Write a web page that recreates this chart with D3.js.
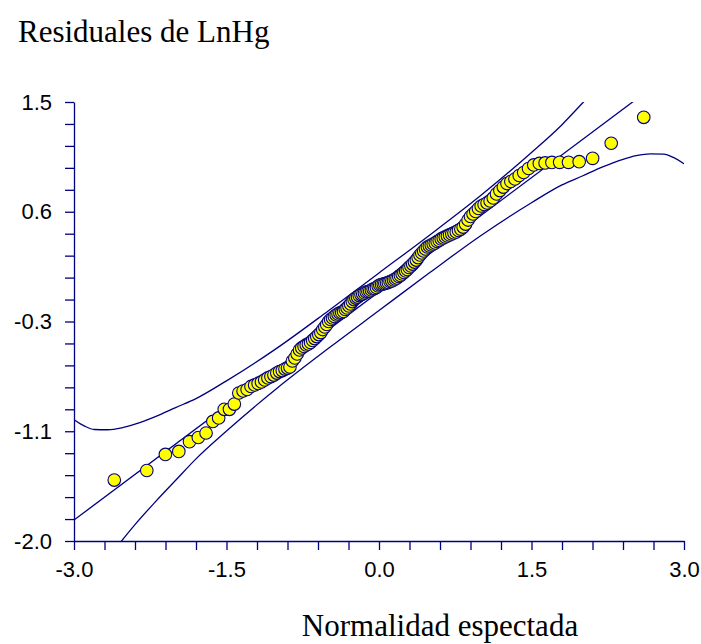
<!DOCTYPE html>
<html>
<head>
<meta charset="utf-8">
<script src="https://cdn.jsdelivr.net/npm/d3@7"></script>
<style>
  html, body { margin: 0; padding: 0; background: #ffffff; }
  svg { display: block; }
</style>
</head>
<body>
<svg id="chart" width="701" height="644"></svg>
<script>
// Normal probability plot of the LnHg residuals (n = 150)

// Expected normal scores (horizontal position of each ordered residual)
const normalScores = [
  -2.604,-2.284,-2.101,-1.969,-1.864,-1.777,-1.701,-1.634,-1.577,-1.522,
  -1.471,-1.423,-1.379,-1.337,-1.297,-1.259,-1.223,-1.189,-1.156,-1.124,
  -1.093,-1.063,-1.034,-1.005,-0.978,-0.951,-0.925,-0.900,-0.876,-0.852,
  -0.828,-0.805,-0.782,-0.760,-0.737,-0.716,-0.694,-0.673,-0.652,-0.632,
  -0.612,-0.592,-0.572,-0.553,-0.533,-0.514,-0.495,-0.476,-0.457,-0.439,
  -0.421,-0.403,-0.385,-0.367,-0.349,-0.331,-0.314,-0.296,-0.279,-0.262,
  -0.245,-0.228,-0.211,-0.194,-0.177,-0.160,-0.143,-0.126,-0.109,-0.092,
  -0.075,-0.058,-0.042,-0.025,-0.008,
  0.008,0.025,0.042,0.058,0.075,0.092,0.109,0.126,0.143,0.160,
  0.177,0.194,0.211,0.228,0.245,0.262,0.279,0.296,0.314,0.331,
  0.349,0.367,0.385,0.403,0.421,0.439,0.457,0.476,0.495,0.514,
  0.533,0.553,0.572,0.592,0.612,0.632,0.652,0.673,0.694,0.716,
  0.737,0.760,0.782,0.805,0.828,0.852,0.876,0.900,0.925,0.951,
  0.978,1.005,1.034,1.063,1.093,1.124,1.156,1.189,1.223,1.259,
  1.297,1.337,1.379,1.423,1.471,1.522,1.577,1.634,1.701,1.777,
  1.864,1.969,2.101,2.284,2.604
];

// Ordered residuals of LnHg
const residuals = [
  -1.514,-1.438,-1.310,-1.286,-1.208,-1.175,-1.139,-1.047,-1.019,-0.950,
  -0.950,-0.908,-0.820,-0.804,-0.792,-0.768,-0.756,-0.744,-0.732,-0.716,
  -0.700,-0.689,-0.677,-0.661,-0.649,-0.641,-0.629,-0.621,-0.613,-0.565,
  -0.541,-0.509,-0.477,-0.461,-0.449,-0.437,-0.429,-0.417,-0.401,-0.386,
  -0.370,-0.354,-0.338,-0.314,-0.294,-0.274,-0.250,-0.234,-0.222,-0.210,
  -0.198,-0.190,-0.182,-0.178,-0.170,-0.154,-0.142,-0.126,-0.110,-0.091,
  -0.075,-0.063,-0.055,-0.043,-0.035,-0.031,-0.023,-0.015,-0.011,-0.007,
  0.001,0.009,0.013,0.021,0.033,0.041,0.045,0.049,0.053,0.057,
  0.061,0.069,0.073,0.081,0.089,0.097,0.109,0.117,0.129,0.141,
  0.153,0.165,0.181,0.193,0.208,0.224,0.240,0.260,0.280,0.296,
  0.312,0.328,0.344,0.352,0.360,0.368,0.376,0.388,0.396,0.408,
  0.416,0.424,0.432,0.440,0.448,0.456,0.464,0.476,0.487,0.503,
  0.527,0.559,0.587,0.607,0.627,0.651,0.671,0.683,0.695,0.711,
  0.735,0.767,0.794,0.822,0.850,0.866,0.886,0.914,0.938,0.970,
  0.998,1.010,1.014,1.018,1.019,1.019,1.024,1.051,1.171,1.378
];

// Reference line for the normal fit
const fitIntercept = -0.013;
const fitSlope = 0.6066;

// Confidence band around the reference line
const bandX     = [-3.0,-2.9,-2.8,-2.67,-2.53,-2.4,-2.2,-2.0,-1.8,-1.5,-1.0,-0.5,0.0,0.5,1.0,1.5,1.8,2.0,2.2,2.4,2.53,2.67,2.8,2.9,3.0];
const bandUpper = [-1.033,-1.082,-1.111,-1.113,-1.098,-1.069,-1.008,-0.936,-0.865,-0.723,-0.460,-0.166,0.137,0.440,0.754,1.097,1.319,1.490,1.662,1.843,1.972,2.127,2.285,2.436,2.607];
const bandLower = [-2.633,-2.462,-2.311,-2.153,-1.998,-1.869,-1.688,-1.516,-1.345,-1.123,-0.780,-0.466,-0.163,0.140,0.434,0.697,0.839,0.910,0.982,1.043,1.072,1.087,1.085,1.056,1.007];

// Axis ranges and labelled ticks
const xDomain = [-3.0, 3.0];
const yDomain = [-2.0, 1.5];
const xTickLabels = ["-3.0", "-1.5", "0.0", "1.5", "3.0"];
const yTickLabels = ["-2.0", "-1.1", "-0.3", "0.6", "1.5"];
const minorPerMajor = 5;

const title = "Residuales de LnHg";
const xTitle = "Normalidad espectada";

// ---- drawing ----
const navy = "#000080";
const svg = d3.select("#chart");
svg.append("rect").attr("width", 701).attr("height", 644).attr("fill", "#ffffff");

const plot = { left: 74, right: 684, top: 102, bottom: 541 };
const x = d3.scaleLinear().domain(xDomain).range([plot.left, plot.right]);
const y = d3.scaleLinear().domain(yDomain).range([plot.bottom, plot.top]);

function tickSet(domain, labels) {
  const nTicks = (labels.length - 1) * minorPerMajor;
  const step = (domain[1] - domain[0]) / nTicks;
  return d3.range(nTicks + 1).map(i => ({ v: domain[0] + i * step, i }));
}
const xTicks = tickSet(xDomain, xTickLabels);
const yTicks = tickSet(yDomain, yTickLabels);

const xAxis = d3.axisBottom(x)
  .tickValues(xTicks.map(d => d.v))
  .tickSize(9).tickSizeOuter(0).tickPadding(11)
  .tickFormat((d, i) => i % minorPerMajor === 0 ? xTickLabels[i / minorPerMajor] : "");
const yAxis = d3.axisLeft(y)
  .tickValues(yTicks.map(d => d.v))
  .tickSize(9).tickSizeOuter(0).tickPadding(13)
  .tickFormat((d, i) => i % minorPerMajor === 0 ? yTickLabels[i / minorPerMajor] : "");

function styleAxis(g) {
  g.select(".domain").attr("stroke", navy).attr("stroke-width", 1.3);
  g.selectAll(".tick line").attr("stroke", navy).attr("stroke-width", 1.3);
  g.selectAll(".tick text")
    .attr("fill", "#000000")
    .style("font-family", "'Liberation Sans', Arial, sans-serif")
    .style("font-size", "22px");
}

svg.append("g").attr("transform", `translate(0,${plot.bottom})`).call(xAxis).call(styleAxis);
svg.append("g").attr("transform", `translate(${plot.left},0)`).call(yAxis).call(styleAxis);

// clip region for the reference line and bands
svg.append("defs").append("clipPath").attr("id", "plot-clip")
  .append("rect")
  .attr("x", plot.left).attr("y", plot.top)
  .attr("width", plot.right - plot.left).attr("height", plot.bottom - plot.top);

const lines = svg.append("g").attr("clip-path", "url(#plot-clip)");

const curve = d3.line().x(d => x(d[0])).y(d => y(d[1])).curve(d3.curveMonotoneX);

lines.append("path")
  .datum(bandX.map((v, i) => [v, bandUpper[i]]))
  .attr("d", curve).attr("fill", "none").attr("stroke", navy).attr("stroke-width", 1.3);
lines.append("path")
  .datum(bandX.map((v, i) => [v, bandLower[i]]))
  .attr("d", curve).attr("fill", "none").attr("stroke", navy).attr("stroke-width", 1.3);
lines.append("line")
  .attr("x1", x(xDomain[0])).attr("y1", y(fitIntercept + fitSlope * xDomain[0]))
  .attr("x2", x(xDomain[1])).attr("y2", y(fitIntercept + fitSlope * xDomain[1]))
  .attr("stroke", navy).attr("stroke-width", 1.3);

// residual points
svg.append("g").selectAll("circle")
  .data(residuals.map((r, i) => [normalScores[i], r]))
  .join("circle")
  .attr("cx", d => x(d[0]))
  .attr("cy", d => y(d[1]))
  .attr("r", 6.3)
  .attr("fill", "#ffff00")
  .attr("stroke", navy)
  .attr("stroke-width", 1.1);

// titles
svg.append("text")
  .attr("x", 18).attr("y", 42)
  .style("font-family", "'Liberation Serif', 'Times New Roman', serif")
  .style("font-size", "31px")
  .attr("fill", "#000000")
  .text(title);

svg.append("text")
  .attr("x", 440).attr("y", 636)
  .attr("text-anchor", "middle")
  .style("font-family", "'Liberation Serif', 'Times New Roman', serif")
  .style("font-size", "31px")
  .attr("fill", "#000000")
  .text(xTitle);
</script>
</body>
</html>
